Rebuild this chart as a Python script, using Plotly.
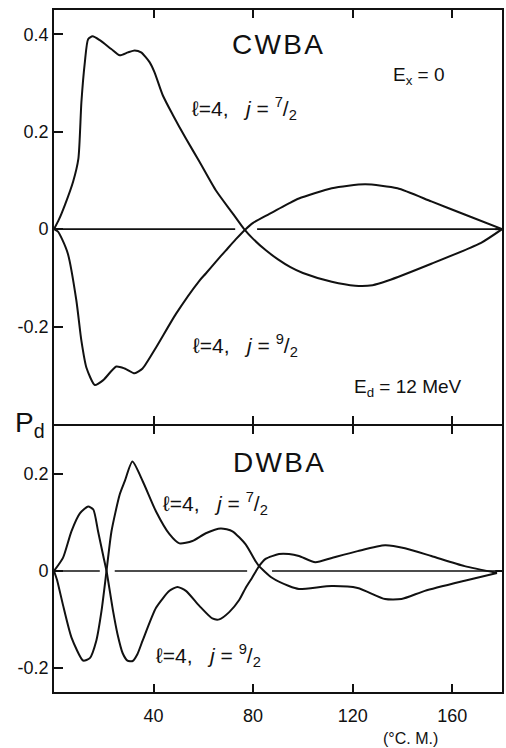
import plotly.graph_objects as go

# ---------------- data ----------------
# CWBA panel (top)
cw_j72_deg = [0, 2, 4.4, 7.7, 9.8, 11, 12.4, 13.7, 15.5, 18.4, 23, 26.4, 29.7, 32.4, 35,
              38.4, 40.4, 43.7, 47.7, 53, 58.4, 65, 71.7, 76.4, 80, 85, 90, 95, 100,
              111.6, 121, 128, 134, 151.6, 171.6, 180]
cw_j72_val = [0, 0.02, 0.05, 0.098, 0.145, 0.26, 0.343, 0.39, 0.396, 0.388, 0.37, 0.357,
              0.363, 0.367, 0.363, 0.343, 0.322, 0.275, 0.235, 0.186, 0.139, 0.08, 0.033,
              0, -0.02, -0.043, -0.062, -0.078, -0.09, -0.108, -0.116, -0.115, -0.106,
              -0.071, -0.028, 0]

cw_j92_deg = [0, 1.6, 3.2, 5.6, 9, 11, 13, 16.4, 19.8, 25, 28.4, 32.4, 35.6, 41, 49, 58.4,
              61, 65, 69, 73, 77, 80, 86.4, 94.4, 98.4, 111.6, 125, 138, 151.6, 165, 180]
cw_j92_val = [0, -0.005, -0.02, -0.051, -0.147, -0.229, -0.284, -0.32, -0.31, -0.282,
              -0.286, -0.296, -0.286, -0.243, -0.174, -0.106, -0.091, -0.067, -0.044,
              -0.021, 0, 0.013, 0.031, 0.053, 0.063, 0.084, 0.092, 0.084, 0.057, 0.03, 0]

# DWBA panel (bottom)
dw_a_deg = [0, 3.6, 7, 10.4, 13.7, 15.8, 17.7, 19.8, 21.1, 23.7, 25.5, 27.6, 29.5, 31.6,
            33.5, 35.6, 41, 46.4, 49.6, 53, 58.4, 63.6, 66.4, 70.4, 74.4, 77, 79.6, 82.4,
            85, 90.4, 94.4, 98.4, 105, 111.6, 122, 133, 141, 151.6, 165, 178]
dw_a_val = [0, 0.027, 0.082, 0.119, 0.133, 0.127, 0.082, 0.031, 0, -0.082, -0.13, -0.17,
            -0.185, -0.186, -0.172, -0.144, -0.076, -0.041, -0.033, -0.041, -0.072,
            -0.098, -0.1, -0.085, -0.06, -0.035, -0.014, 0.01, 0.025, 0.035, 0.035,
            0.031, 0.018, 0.027, 0.041, 0.053, 0.047, 0.031, 0.01, -0.004]

dw_b_deg = [0, 1.2, 3.6, 7, 11.7, 14.4, 17, 19.1, 21.1, 23.1, 26.4, 28.4, 31.5, 35.7, 41,
            46.4, 50.4, 55.6, 61, 67, 71.7, 77, 81, 82.4, 87.6, 94.4, 98.4, 111.6, 122,
            133, 139.6, 149, 165, 178]
dw_b_val = [0, -0.018, -0.07, -0.137, -0.185, -0.18, -0.144, -0.082, 0, 0.082, 0.158,
            0.185, 0.226, 0.185, 0.123, 0.076, 0.057, 0.062, 0.078, 0.088, 0.082, 0.055,
            0.02, 0.01, -0.014, -0.031, -0.037, -0.031, -0.035, -0.058, -0.058, -0.041,
            -0.02, -0.004]

# zero reference line segments (broken where the curves cross)
cw_zero_segments = [[0, 72.8], [81.6, 180]]
dw_zero_segments = [[0, 18.4], [24.4, 77.6], [87.6, 178]]

x_ticks = [40, 80, 120, 160]
x_ticktext = ["40", "80", "120", "160"]
cw_yticks = [-0.2, 0, 0.2, 0.4]
cw_yticktext = ["-0.2", "0", "0.2", "0.4"]
dw_yticks = [-0.2, 0, 0.2]
dw_yticktext = ["-0.2", "0", "0.2"]

# ---------------- figure ----------------
INK = "#111111"
FONT = "Liberation Sans"
W, H = 506, 748
ML, MR, MT, MB = 54, 2, 10, 56
PW = W - ML - MR
PH = H - MT - MB
SPLIT = 0.393
LW = 1.8

fig = go.Figure()

def curve(x, y, xa, ya):
    fig.add_trace(go.Scatter(x=x, y=y, mode="lines", xaxis=xa, yaxis=ya,
                             line=dict(color=INK, width=2, shape="spline", smoothing=0.6),
                             hoverinfo="skip", showlegend=False))

def zero_line(segs, xa, ya):
    for a, b in segs:
        fig.add_trace(go.Scatter(x=[a, b], y=[0, 0], mode="lines", xaxis=xa, yaxis=ya,
                                 line=dict(color=INK, width=1.6),
                                 hoverinfo="skip", showlegend=False))

zero_line(cw_zero_segments, "x", "y")
zero_line(dw_zero_segments, "x2", "y2")
curve(cw_j72_deg, cw_j72_val, "x", "y")
curve(cw_j92_deg, cw_j92_val, "x", "y")
curve(dw_a_deg, dw_a_val, "x2", "y2")
curve(dw_b_deg, dw_b_val, "x2", "y2")

axis_common = dict(showline=True, linecolor=INK, linewidth=LW, showgrid=False,
                   zeroline=False, ticks="inside", tickcolor=INK, tickwidth=2,
                   tickfont=dict(family=FONT, size=18, color=INK))

fig.update_layout(
    width=W, height=H,
    margin=dict(l=ML, r=MR, t=MT, b=MB),
    paper_bgcolor="white", plot_bgcolor="white",
    showlegend=False,
    xaxis=dict(domain=[0, 1], anchor="y", range=[0, 180], tickvals=x_ticks,
               showticklabels=False, mirror="ticks", ticklen=8, **axis_common),
    yaxis=dict(domain=[SPLIT, 1], anchor="x", range=[-0.40, 0.45], tickvals=cw_yticks,
               ticktext=cw_yticktext, mirror=True, ticklen=9, **axis_common),
    xaxis2=dict(domain=[0, 1], anchor="y2", range=[0, 180], tickvals=x_ticks,
                ticktext=x_ticktext, mirror="ticks", ticklen=8, ticklabelstandoff=6,
                **axis_common),
    yaxis2=dict(domain=[0, SPLIT - LW / PH], anchor="x2", range=[-0.25, 0.30],
                tickvals=dw_yticks, ticktext=dw_yticktext, mirror=True, ticklen=9,
                **axis_common),
)

# helpers: pixel position -> paper coords
def px(x):
    return (x - ML) / PW
def py(y):
    return (H - MB - y) / PH

def label(text, x, y, size, xanchor="center"):
    fig.add_annotation(text=text, x=px(x), y=py(y), xref="paper", yref="paper",
                       xanchor=xanchor, yanchor="middle", showarrow=False,
                       font=dict(family=FONT, size=size, color=INK))

hs = "\u200a"
label(hs.join("CWBA"), 278, 45, 28)
label(hs.join("DWBA"), 279, 462, 28)
label("E<sub>x</sub> = 0", 393, 76, 19, xanchor="left")
label("E<sub>d</sub> = 12 MeV", 353, 388, 19, xanchor="left")
label("P<sub>d</sub>", 13, 424, 28, xanchor="left")
label("\u2113=4,   <i>j</i> = <sup>7</sup>/<sub>2</sub>", 191, 109, 21, xanchor="left")
label("\u2113=4,   <i>j</i> = <sup>9</sup>/<sub>2</sub>", 192, 345, 21, xanchor="left")
label("\u2113=4,   <i>j</i> = <sup>7</sup>/<sub>2</sub>", 161, 503, 21, xanchor="left")
label("\u2113=4,   <i>j</i> = <sup>9</sup>/<sub>2</sub>", 154, 655, 21, xanchor="left")
label("(°C. M.)", 412, 738, 16)

# small zero ticks on the right frame
for yref in ("y", "y2"):
    fig.add_shape(type="line", xref="paper", yref=yref, x0=1, x1=0.985, y0=0, y1=0,
                  line=dict(color=INK, width=2))

fig.write_html("out.html", config={"displayModeBar": False})

# remove the default page margin so the figure sits at the window's top-left
with open("out.html", "r", encoding="utf-8") as f:
    html = f.read()
html = html.replace("<body>", '<body style="margin:0;padding:0;">', 1)
html = html.replace("<head>", "<head><style>html,body{margin:0;padding:0;}</style>", 1)
with open("out.html", "w", encoding="utf-8") as f:
    f.write(html)
